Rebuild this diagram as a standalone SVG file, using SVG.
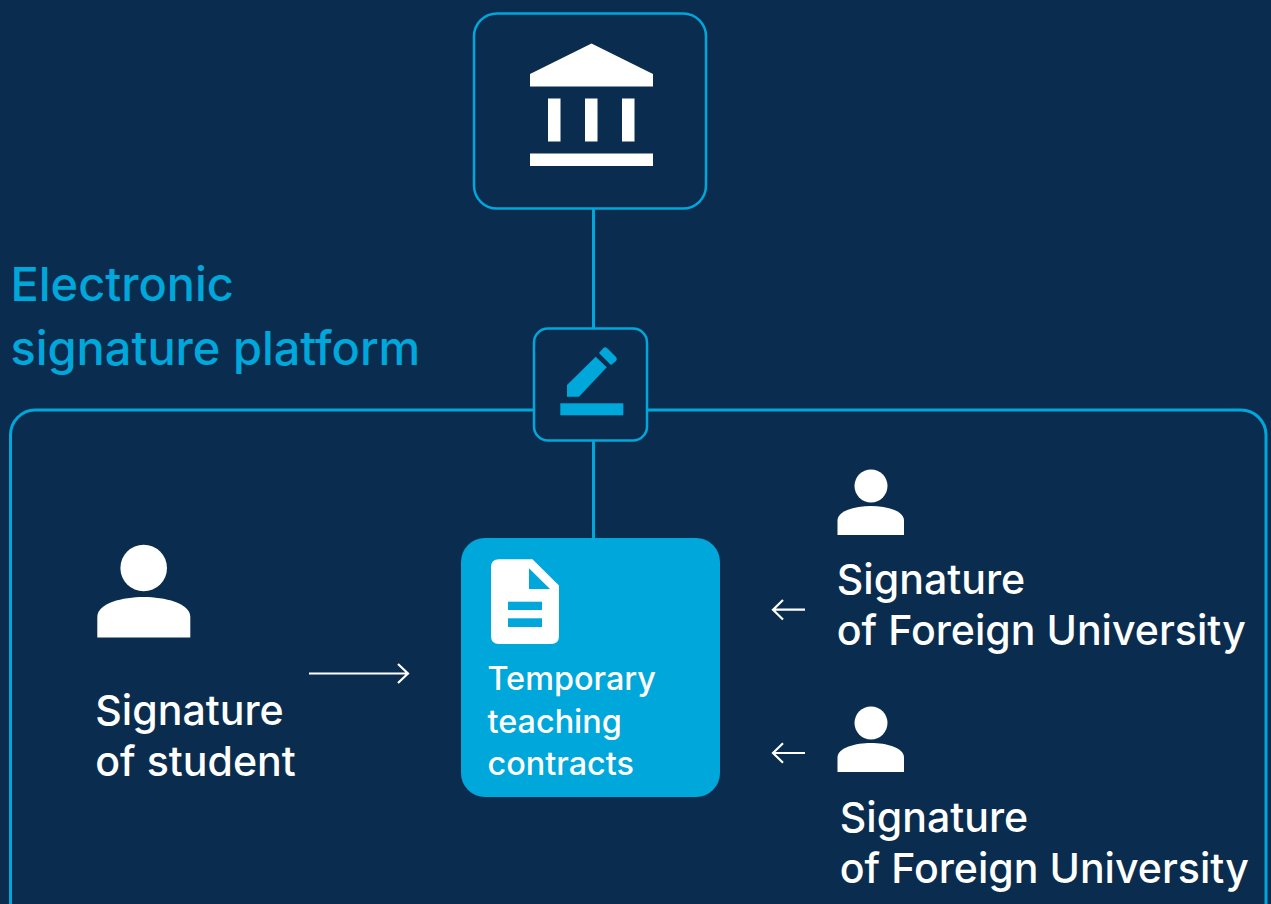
<svg xmlns="http://www.w3.org/2000/svg" width="1271" height="904" viewBox="0 0 1271 904">
<style>
.ln{fill:none;stroke:#00a7db;stroke-width:3}
.box{fill:#0a2d4f;stroke:#00a7db;stroke-width:2.5}
.w{fill:#fff}
.b{fill:#00a7db}
.arr{fill:none;stroke:#fff;stroke-width:2.2}
text{font-family:"Inter","Liberation Sans",sans-serif;font-weight:500}
.t{font-size:41.100px;fill:#fff}
.h{font-size:46.900px;fill:#00a7db}
.d{font-size:32.400px;fill:#fff}
</style>
<rect width="1271" height="904" fill="#0a2d4f"/>
<g id="connectors">
<path class="ln" d="M593.5 208V328M593.5 440V538"/>
<path class="ln" d="M534 410H35A25 25 0 0 0 10.500 435V904"/>
<path class="ln" d="M644 410H1241A25 25 0 0 1 1266 435V904"/>
<path class="arr" d="M309 673.500H407.500M398 664L408 673.500L398 683"/>
<path class="arr" d="M805 609.700H773M783 600L773 609.700L783 619.500"/>
<path class="arr" d="M805 753H773M783 743.300L773 753L783 762.800"/>
</g>
<g id="label-platform">
<text class="h" x="10.500" y="300.500">Electronic</text>
<text class="h" x="10.500" y="364.500">signature platform</text>
</g>
<g id="institution">
<rect class="box" x="474" y="13.500" width="232" height="195" rx="23"/>
<path class="w" d="M530 74L591.500 43.500L653 74V86.500H530Z"/>
<rect class="w" x="548" y="98.500" width="12.500" height="43"/>
<rect class="w" x="585" y="98.500" width="12.500" height="43"/>
<rect class="w" x="622" y="98.500" width="12.500" height="43"/>
<rect class="w" x="530" y="153.500" width="123" height="12.500"/>
</g>
<g id="signature-platform">
<rect class="box" x="534" y="328.500" width="113" height="112" rx="14"/>
<path class="b" d="M567 385L595.700 356.700L606.700 367.300L579 396.700H567Z"/>
<path class="b" d="M599 353L603 348.500Q605 346 607.500 348.500L615.500 356.500Q618 359 615.500 361.500L611 365Z"/>
<rect class="b" x="560.300" y="403.300" width="63" height="12"/>
</g>
<g id="contracts">
<rect class="b" x="461" y="538" width="259" height="259" rx="24"/>
<path class="w" d="M499 559.300H532.500L559 585.500V636Q559 644 551 644H499Q491 644 491 636V567.300Q491 559.300 499 559.300Z"/>
<path class="b" d="M529 568.300L550 589H529Z"/>
<rect class="b" x="508" y="601.700" width="34" height="8.300"/>
<rect class="b" x="508" y="618.300" width="34" height="8.700"/>
<text class="d" x="487.500" y="690">Temporary</text>
<text class="d" x="487.500" y="733">teaching</text>
<text class="d" x="487.500" y="775">contracts</text>
</g>
<g id="student">
<circle class="w" cx="143.700" cy="568" r="23.300"/>
<path class="w" d="M97.300 637.500V617C97.300 603 123 597 143.700 597S190.300 603 190.300 617V637.500Z"/>
<text class="t" x="95.300" y="724.500">Signature</text>
<text class="t" x="95.300" y="775.500">of student</text>
</g>
<g id="foreign-university-1">
<circle class="w" cx="871" cy="486" r="16.500"/>
<path class="w" d="M837.500 535V520.500C837.500 510.500 856 506 871 506S904 510.500 904 520.500V535Z"/>
<text class="t" x="836.800" y="593.500">Signature</text>
<text class="t" x="836.800" y="644.500">of Foreign University</text>
</g>
<g id="foreign-university-2">
<circle class="w" cx="871" cy="723" r="16.500"/>
<path class="w" d="M837.500 772V757.500C837.500 747.500 856 743 871 743S904 747.500 904 757.500V772Z"/>
<text class="t" x="839.800" y="831.500">Signature</text>
<text class="t" x="839.800" y="882.500">of Foreign University</text>
</g>
</svg>
